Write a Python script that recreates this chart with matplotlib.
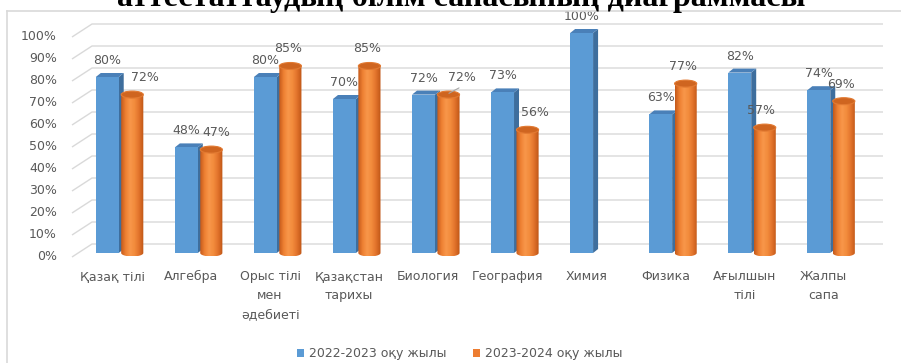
import numpy as np
import matplotlib
matplotlib.use("Agg")
import matplotlib.pyplot as plt
from matplotlib.patches import Polygon, Ellipse, Rectangle, PathPatch, Patch
from matplotlib.path import Path
from matplotlib.lines import Line2D
from matplotlib.colors import LinearSegmentedColormap

# ---- data ----
title = "аттестаттаудың білім сапасының диаграммасы"
categories = ["Қазақ тілі", "Алгебра", "Орыс тілі\nмен\nәдебиеті", "Қазақстан\nтарихы",
              "Биология", "География", "Химия", "Физика", "Ағылшын\nтілі", "Жалпы\nсапа"]
series_names = ["2022-2023 оқу жылы", "2023-2024 оқу жылы"]
year_2022_23 = [80, 48, 80, 70, 72, 73, 100, 63, 82, 74]
year_2023_24 = [72, 47, 85, 85, 72, 56, np.nan, 77, 57, 69]
y_ticks = [0, 10, 20, 30, 40, 50, 60, 70, 80, 90, 100]

# horizontal nudges (pixels) of the orange value labels
orange_label_dx = [12.5, 5.5, -2, -2, 13, 7, 0, -3, -4, -3]

# ---- style ----
W, H, DPI = 901, 363, 100
TEXT = "#595959"
GRID = "#D9D9D9"
BLUE_FRONT = "#5B9BD5"
BLUE_SIDE = "#3E6E9D"
BLUE_TOP = "#4A80B8"
ORANGE_TOP = "#CF6520"
FONT = "DejaVu Sans"
FS = 9

PX_PER_CAT = 79.06   # pixels per category step
PX_PER_PCT = 2.2     # pixels per percent
X0_PX, Y0_PX = 112, 253

def dx(px):
    return px / PX_PER_CAT

def dy(px):
    return px / PX_PER_PCT

blue_off, blue_w = -0.06, 0.29
orange_off, orange_w = 0.256, 0.28
depth_x, depth_y = dx(5), dy(4)
ell_h = dy(7)

fig = plt.figure(figsize=(W / DPI, H / DPI), dpi=DPI)
ax = fig.add_axes([0, 0, 1, 1])
ax.set_axis_off()
ax.set_autoscale_on(False)
ax.set_xlim(-X0_PX / PX_PER_CAT, (W - X0_PX) / PX_PER_CAT)
ax.set_ylim((Y0_PX - H) / PX_PER_PCT, Y0_PX / PX_PER_PCT)

# ---- walls / gridlines ----
x_front = dx(72 - X0_PX)
x_back = dx(92 - X0_PX)
x_right = dx(883 - X0_PX)
for v in y_ticks:
    ax.plot([x_front, x_back, x_right], [v - dy(4), v + dy(9), v + dy(9)],
            color=GRID, lw=1.0, zorder=1, solid_capstyle="butt")
    ax.annotate(f"{v}%", xy=(dx(57 - X0_PX), v), xytext=(0, -4),
                textcoords="offset pixels", ha="right", va="center",
                fontsize=FS, color=TEXT, family=FONT)

# ---- bars ----
orange_cmap = LinearSegmentedColormap.from_list(
    "cyl", ["#C4591A", "#EE8133", "#F8974A", "#F28B3C", "#E0712A", "#BE5516"])
grad = np.linspace(0, 1, 64).reshape(1, -1)

for i, (a, b) in enumerate(zip(year_2022_23, year_2023_24)):
    # blue prism
    c = i + blue_off
    x0, x1 = c - blue_w / 2, c + blue_w / 2
    ax.add_patch(Polygon([(x1, 0), (x1 + depth_x, depth_y), (x1 + depth_x, a + depth_y), (x1, a)],
                         closed=True, fc=BLUE_SIDE, ec="none", zorder=3))
    ax.add_patch(Polygon([(x0, a), (x0 + depth_x, a + depth_y), (x1 + depth_x, a + depth_y), (x1, a)],
                         closed=True, fc=BLUE_TOP, ec="none", zorder=3))
    ax.add_patch(Rectangle((x0, 0), blue_w, a, fc=BLUE_FRONT, ec="none", zorder=4))
    ax.annotate(f"{a:.0f}%", xy=(c, a), xytext=(0, 16.5), textcoords="offset pixels",
                ha="center", va="center", fontsize=FS, color=TEXT, family=FONT, zorder=8)

    if np.isnan(b):
        continue
    # orange cylinder
    c = i + orange_off
    x0, x1 = c - orange_w / 2, c + orange_w / 2
    t = np.linspace(np.pi, 2 * np.pi, 40)
    arc = np.column_stack([c + orange_w / 2 * np.cos(t), ell_h / 2 * np.sin(t)])
    verts = np.vstack([[(x0, b), (x0, 0)], arc, [(x1, 0), (x1, b), (x0, b)]])
    body = PathPatch(Path(verts, closed=True), fc="none", ec="none", transform=ax.transData)
    ax.add_patch(body)
    im = ax.imshow(grad, cmap=orange_cmap, aspect="auto", interpolation="bilinear",
                   extent=(x0, x1, -ell_h / 2, b), zorder=5)
    im.set_clip_path(body)
    ax.add_patch(Ellipse((c, b), orange_w, ell_h, fc=ORANGE_TOP, ec="#E27A32", lw=0.8, zorder=6))
    ax.annotate(f"{b:.0f}%", xy=(c, b), xytext=(orange_label_dx[i], 17),
                textcoords="offset pixels", ha="center", va="center",
                fontsize=FS, color=TEXT, family=FONT, zorder=8)

# leader line for the crowded Биология label
bi = categories.index("Биология")
ax.annotate("", xy=(bi + orange_off - dx(2), year_2023_24[bi]), xytext=(bi + orange_off + dx(13), year_2023_24[bi] + dy(8)),
            arrowprops=dict(arrowstyle="-", color="#A6A6A6", lw=0.8), zorder=9)

# ---- category labels ----
for i, name in enumerate(categories):
    ax.text(i, dy(Y0_PX - 270), name, ha="center", va="top", fontsize=FS,
            color=TEXT, family=FONT, linespacing=1.6, multialignment="center")

# ---- legend ----
handles = [Patch(fc=BLUE_FRONT, ec="none"), Patch(fc="#ED7D31", ec="none")]
fig.legend(handles, series_names, loc="center", bbox_to_anchor=(460 / W, 1 - 354 / H),
           ncol=2, frameon=False, fontsize=FS, handlelength=0.56, handleheight=0.56,
           handletextpad=0.4, columnspacing=2.1, labelcolor=TEXT,
           prop={"family": FONT, "size": FS})

# ---- chart frame ----
fig.add_artist(Line2D([7 / W, 1], [1 - 10.5 / H] * 2, color=GRID, lw=1.2, transform=fig.transFigure))
fig.add_artist(Line2D([7 / W] * 2, [0, 1 - 10.5 / H], color=GRID, lw=1.2, transform=fig.transFigure))

# ---- title (partly above the canvas) ----
fig.text(461 / W, 1 - 6 / H, title, ha="center", va="baseline", fontsize=23,
         fontweight="bold", family="Liberation Serif", color="black")

fig.savefig("out.png", dpi=DPI)
